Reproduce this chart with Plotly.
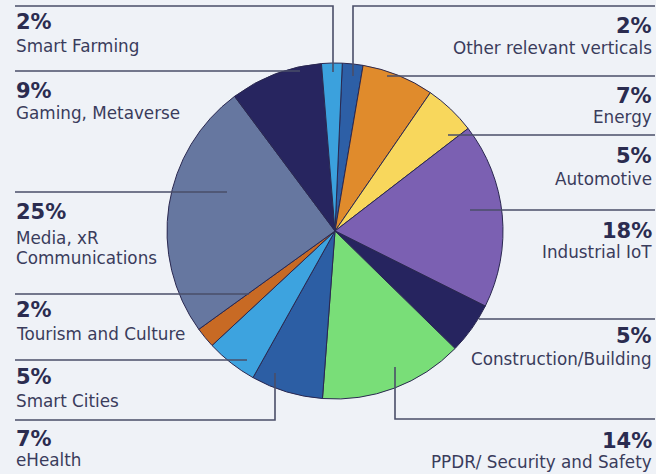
import plotly.graph_objects as go

# ---- data ----
categories = ["Other relevant verticals", "Energy", "Automotive", "Industrial IoT",
              "Construction/Building", "PPDR/ Security and Safety", "eHealth",
              "Smart Cities", "Tourism and Culture", "Media, xR<br>Communications",
              "Gaming, Metaverse", "Smart Farming"]
values = [2, 7, 5, 18, 5, 14, 7, 5, 2, 25, 9, 2]
pct_labels = [f"{v}%" for v in values]

# ---- styles ----
colors = ["#2d5fa6", "#e08b2c", "#f8d75c", "#7b60b2", "#26245f", "#79de78",
          "#2c5ea4", "#3da3df", "#c86a24", "#6677a0", "#27255f", "#3ba1dd"]
W, H = 656, 474
cx, cy, R = 335, 231, 168

# label layout: side, pct y, label y (pixels)
label_pos = [("r", 26, 48), ("r", 96, 117), ("r", 156, 179), ("r", 231, 252),
             ("r", 336, 359), ("r", 441, 462), ("l", 439, 460), ("l", 377, 401),
             ("l", 310, 334), ("l", 212, 238), ("l", 91, 113), ("l", 22, 46)]
line_gap = 20
# leader lines as polylines in pixels
leaders = [
    [(353, 76), (353, 6), (655, 6)],
    [(387, 76), (655, 76)],
    [(448, 135), (655, 135)],
    [(470, 210), (655, 210)],
    [(479, 319), (655, 319)],
    [(395, 367), (395, 419), (655, 419)],
    [(275, 373), (275, 420), (15, 420)],
    [(247, 360), (15, 360)],
    [(249, 294), (15, 294)],
    [(227, 192), (15, 192)],
    [(300, 71), (15, 71)],
    [(333, 72), (333, 6), (15, 6)],
]

def px(x):
    return x / W

def py(y):
    return 1 - y / H

fig = go.Figure(go.Pie(
    labels=categories, values=values, sort=False, direction="clockwise",
    rotation=2.5, marker=dict(colors=colors, line=dict(color="#2a2850", width=1)),
    textinfo="none", hoverinfo="skip", showlegend=False,
    domain=dict(x=[px(cx - R), px(cx + R)], y=[py(cy + R), py(cy - R)]),
))

shapes = []
for pts in leaders:
    path = "M " + " L ".join(f"{px(x)},{py(y)}" for x, y in pts)
    shapes.append(dict(type="path", path=path, xref="paper", yref="paper",
                       line=dict(color="#4a4e68", width=1.6)))

annotations = []
for cat, pct, (side, ypct, ylab) in zip(categories, pct_labels, label_pos):
    xa = px(14) if side == "l" else px(654)
    anchor = "left" if side == "l" else "right"
    annotations.append(dict(text=f"<b>{pct}</b>", x=xa, y=py(ypct), xref="paper", yref="paper",
                            xanchor=anchor, yanchor="middle", showarrow=False, align=anchor,
                            font=dict(family="DejaVu Sans", size=21, color="#2b2c50")))
    for i, part in enumerate(cat.split("<br>")):
        annotations.append(dict(text=part, x=xa, y=py(ylab + i * line_gap), xref="paper", yref="paper",
                                xanchor=anchor, yanchor="middle", showarrow=False, align=anchor,
                                font=dict(family="DejaVu Sans", size=16.8, color="#3a3c5c")))

fig.update_layout(width=W, height=H, margin=dict(l=0, r=0, t=0, b=0),
                  paper_bgcolor="#eff2f7", plot_bgcolor="#eff2f7",
                  shapes=shapes, annotations=annotations)
fig.write_html("out.html", config={"displayModeBar": False},
               post_script="document.body.style.margin='0';document.body.style.padding='0';"
                           "document.body.style.overflow='hidden';"
                           "document.documentElement.style.overflow='hidden';")
